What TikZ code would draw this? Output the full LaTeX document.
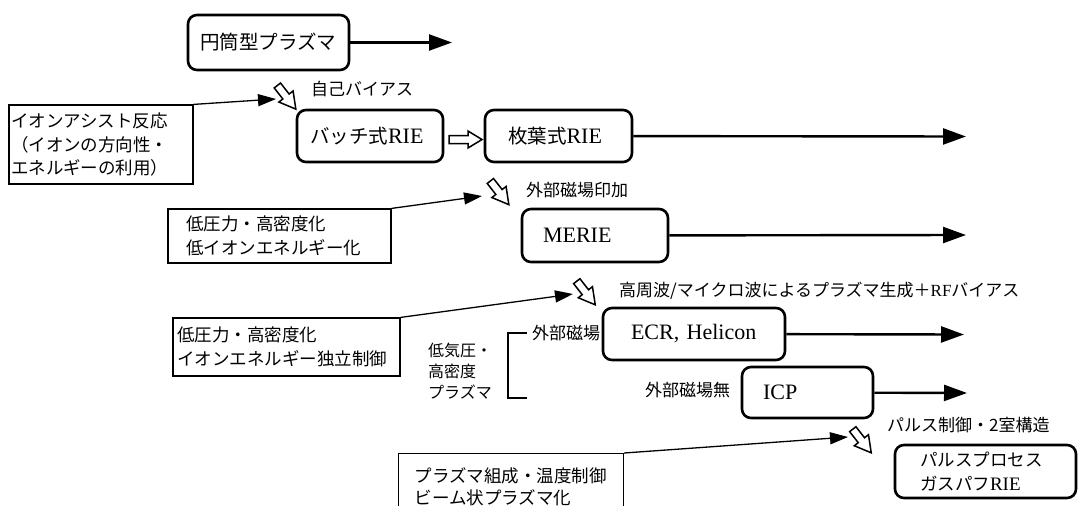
\documentclass[tikz,border=0pt]{standalone}
\usepackage{fontspec}
\setmainfont{Liberation Serif}
\newfontfamily\jp{Noto Sans CJK JP}
\usetikzlibrary{arrows.meta}
\newcommand\JB[1]{{\jp\fontsize{19.5}{26}\selectfont #1}}
\newcommand\JS[1]{{\jp\fontsize{17.5}{24}\selectfont #1}}
\begin{document}
\begin{tikzpicture}[x=1pt,y=-1pt,
  rbox/.style={draw,line width=2.6pt,rounded corners=9pt,inner ysep=0pt,align=left,font=\fontsize{22}{26}\selectfont},
  pbox/.style={draw,line width=1.2pt,inner ysep=0pt,align=left,font=\jp\fontsize{17.5}{23.5}\selectfont},
  lbl/.style={anchor=west,inner sep=0pt,font=\jp\fontsize{17}{21}\selectfont},
  flow/.style={line width=2.4pt,-{Triangle[length=23pt,width=16pt]}},
  link/.style={line width=1.3pt,-{Triangle[length=18pt,width=12pt]}},
  hollow/.style={draw,line width=1.5pt,fill=white,line join=miter},
]
\useasboundingbox (0,0) rectangle (1079,506);

% main boxes
\node[rbox,minimum height=55pt,text width=137pt,inner xsep=12pt] (b1) at (268.5,42.5) {\JB{円筒型プラズマ}};
\node[rbox,minimum height=52pt,text width=120pt,inner xsep=13pt] (b2) at (370,136) {\JB{バッチ式}RIE};
\node[rbox,minimum height=52pt,text width=101pt,inner xsep=23pt] (b3) at (558.5,136) {\JB{枚葉式}RIE};
\node[rbox,minimum height=53pt,text width=104pt,inner xsep=21pt] (b4) at (595,235.5) {MERIE};
\node[rbox,minimum height=52pt,text width=126pt,inner xsep=28pt] (b5) at (694,334) {ECR, Helicon};
\node[rbox,minimum height=51pt,text width=89pt,inner xsep=21pt] (b6) at (807.5,392.5) {ICP};
\node[rbox,minimum height=53pt,text width=131pt,inner xsep=25pt,font=\fontsize{19}{24}\selectfont] (b7) at (985.5,471.5) {\JS{パルスプロセス}\\\JS{ガスパフ}RIE};

% flow arrows
\coordinate (e1) at (452,42.5);
\coordinate (e3) at (966,136.5);
\coordinate (e4) at (966,235);
\coordinate (e5) at (964,334.5);
\coordinate (e6) at (967,393);
\draw[flow] (b1) -- (e1);
\draw[flow] (b3) -- (e3);
\draw[flow] (b4) -- (e4);
\draw[flow] (b5) -- (e5);
\draw[flow] (b6) -- (e6);

% horizontal hollow arrow
\draw[hollow] (449,135.5) -- (468,135.5) -- (468,131) -- (482,139.5) -- (468,148) -- (468,143.5) -- (449,143.5) -- cycle;

% diagonal hollow arrows
\foreach \p in {(286.6,97.3),(499.6,192.8),(586,293),(862,441)}{
  \draw[hollow,shift={\p},rotate=-52] (-15,-4) -- (-1,-4) -- (-1,-9) -- (15,0) -- (-1,9) -- (-1,4) -- (-15,4) -- cycle;
}

% plain rectangles
\node[pbox,text width=180pt,inner xsep=2pt,minimum height=79pt] (r1) at (101,144.5) {イオンアシスト反応\\（イオンの方向性・\\エネルギーの利用）};
\node[pbox,text width=187pt,inner xsep=18pt,minimum height=54pt] (r2) at (279.5,236) {低圧力・高密度化\\低イオンエネルギー化};
\node[pbox,text width=219pt,inner xsep=4pt,minimum height=58pt] (r3) at (286.5,347) {低圧力・高密度化\\イオンエネルギー独立制御};
\node[pbox,anchor=north west,text width=193pt,inner xsep=16pt,inner ysep=14pt,font=\jp\fontsize{17.5}{22.5}\selectfont] (r4) at (398,453) {プラズマ組成・温度制御\\ビーム状プラズマ化};

% connectors
\coordinate (h1) at (276,99);
\coordinate (h2) at (482,196);
\coordinate (h3) at (573,294);
\coordinate (h4) at (848,437);
\draw[link] (r1.north east) -- (h1);
\draw[link] (r2.north east) -- (h2);
\draw[link] (r3.north east) -- (h3);
\draw[link] (r4.north east) -- (h4);

% labels
\node[lbl] (l1) at (311,89) {自己バイアス};
\node[lbl] (l2) at (526,190) {外部磁場印加};
\node[lbl] (l3) at (619,291) {高周波/マイクロ波によるプラズマ生成＋{\rmfamily RF}バイアス};
\node[lbl] (l4) at (532,333) {外部磁場};
\node[lbl] (l5) at (645,390) {外部磁場無};
\node[lbl,align=left,font=\jp\fontsize{16}{21}\selectfont] (l6) at (428,371) {低気圧・\\高密度\\プラズマ};
\node[lbl] (l7) at (887,425) {パルス制御・2室構造};

% bracket
\draw[line width=2.4pt] (527,333) -- (508,333) -- (508,398) -- (527,398);
\end{tikzpicture}
\end{document}
